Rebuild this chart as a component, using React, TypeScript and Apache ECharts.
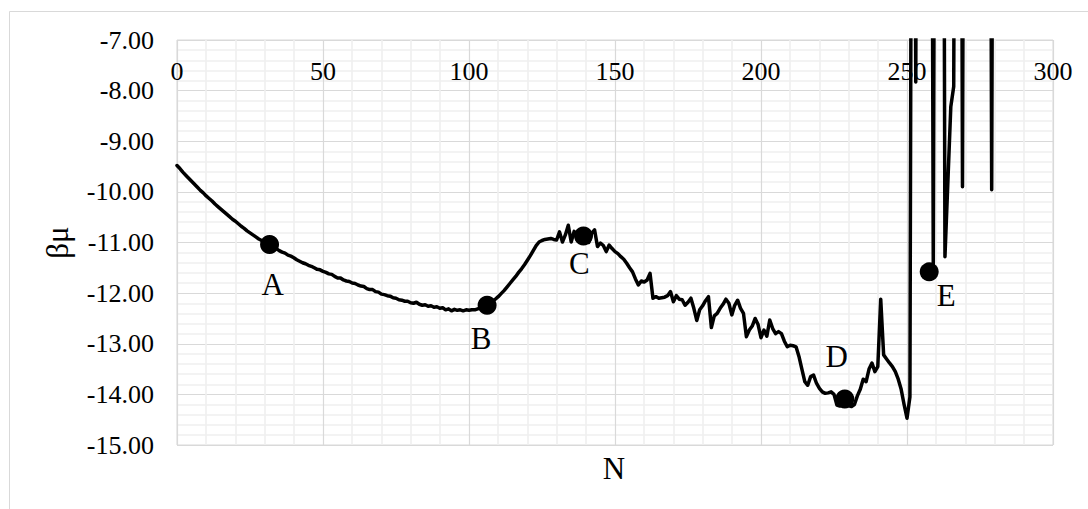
import React, { useEffect, useRef } from "react";
import * as echarts from "echarts";

const FONT = "Liberation Serif";

// βμ values for N = 0, 1, 2, ... (index = N)
const betaMu: number[] = [
  -9.48, -9.54, -9.61, -9.67, -9.73, -9.79, -9.85, -9.91, -9.97, -10.02,
  -10.08, -10.13, -10.18, -10.24, -10.29, -10.34, -10.39, -10.44, -10.49, -10.54,
  -10.58, -10.63, -10.68, -10.72, -10.77, -10.81, -10.85, -10.89, -10.93, -10.96,
  -11.0, -11.03, -11.06, -11.1, -11.12, -11.16, -11.19, -11.21, -11.25, -11.27,
  -11.3, -11.34, -11.37, -11.4, -11.42, -11.45, -11.47, -11.5, -11.53, -11.54,
  -11.57, -11.59, -11.62, -11.63, -11.67, -11.7, -11.7, -11.74, -11.76, -11.77,
  -11.8, -11.81, -11.84, -11.86, -11.87, -11.91, -11.93, -11.93, -11.97, -11.98,
  -12.02, -12.03, -12.05, -12.06, -12.09, -12.1, -12.13, -12.14, -12.16, -12.16,
  -12.19, -12.2, -12.18, -12.22, -12.24, -12.23, -12.26, -12.25, -12.28, -12.27,
  -12.3, -12.29, -12.33, -12.31, -12.35, -12.32, -12.34, -12.33, -12.35, -12.33,
  -12.34, -12.33, -12.33, -12.31, -12.29, -12.27, -12.24, -12.21, -12.17, -12.12,
  -12.07, -12.01, -11.95, -11.88, -11.81, -11.74, -11.67, -11.59, -11.52, -11.44,
  -11.35, -11.26, -11.16, -11.06, -10.99, -10.96, -10.94, -10.93, -10.92, -10.94,
  -10.95, -10.79, -10.99, -10.85, -10.66, -10.99, -10.78, -10.88, -10.84, -10.87,
  -10.9, -11.0, -10.82, -10.75, -11.08, -11.01, -11.06, -11.18, -11.05, -11.12,
  -11.18, -11.22, -11.28, -11.33, -11.41, -11.5, -11.58, -11.72, -11.84, -11.76,
  -11.78, -11.74, -11.61, -12.1, -12.07, -12.1, -12.09, -12.08, -12.05, -11.97,
  -12.17, -12.05, -12.12, -12.13, -12.24, -12.18, -12.1, -12.3, -12.54, -12.33,
  -12.25, -12.15, -12.07, -12.68, -12.45, -12.4, -12.3, -12.22, -12.12, -12.2,
  -12.43, -12.24, -12.14, -12.3, -12.4, -12.86, -12.73, -12.65, -12.5, -12.62,
  -12.88, -12.73, -12.85, -12.53, -12.7, -12.8, -12.76, -12.8, -12.95, -13.06,
  -13.03, -13.04, -13.06, -13.25, -13.5, -13.75, -13.82, -13.65, -13.62, -13.78,
  -13.88, -13.95, -13.98, -13.97, -13.95, -14.0, -14.21, -14.23, -14.2, -14.15,
  -14.22, -14.24, -14.2, -14.03, -13.9, -13.7, -13.75, -13.5, -13.38, -13.55,
  -13.45, -12.12, -13.22, -13.3, -13.38, -13.45, -13.55, -13.7, -13.9, -14.2,
  -14.47, -14.05, 8, -7.83, 10, 12, 11, 9, 8, -11.5,
  9, 11, 10, -11.28, -9.8, -8.32, -7.92, 9, 11, -9.9,
  10, 12, 13, 11, 12, 10, 12, 11, 9, -9.96,
  10, 12,
];

const markerNames = ["A", "B", "C", "D", "E"];
const markerN = [31.7, 106.2, 139.2, 228.7, 257.6];
const markerValues = [-11.04, -12.24, -10.87, -14.09, -11.58];

const xMin = 0;
const xMax = 300;
const xStep = 50;
const yMin = -15;
const yMax = -7;
const yStep = 1;

const xTitle = "N";
const yTitle = "βμ";

// label offsets from marker centre (px)
const labelOffsets: [number, number][] = [
  [3, 40],
  [-6, 33],
  [-4, 28],
  [-8, -42],
  [17, 24],
];

export default function App() {
  const ref = useRef<HTMLDivElement>(null);

  useEffect(() => {
    if (!ref.current) return;
    const chart = echarts.init(ref.current, null, { renderer: "svg" });
    const lineData = betaMu.map((v, i) => [i, v]);
    const markerData = markerNames.map((name, i) => ({
      name,
      value: [markerN[i], markerValues[i]],
      label: {
        show: true,
        position: "inside",
        offset: labelOffsets[i],
        formatter: name,
        fontFamily: FONT,
        fontSize: 31,
        color: "#000",
      },
    }));

    chart.setOption({
      animation: false,
      backgroundColor: "#ffffff",
      textStyle: { fontFamily: FONT },
      grid: {
        left: 177,
        right: 35,
        top: 40,
        bottom: 64,
        show: true,
        borderColor: "#d9d9d9",
        borderWidth: 1,
        backgroundColor: "transparent",
      },
      xAxis: {
        type: "value",
        position: "top",
        min: xMin,
        max: xMax,
        interval: xStep,
        axisLine: { show: false },
        axisTick: { show: false },
        axisLabel: {
          inside: true,
          margin: 18,
          fontFamily: FONT,
          fontSize: 26,
          color: "#000",
        },
        splitLine: { show: true, lineStyle: { color: "#d9d9d9", width: 1.2 } },
        minorTick: { show: false, splitNumber: 5 },
        minorSplitLine: { show: true, lineStyle: { color: "#efefef", width: 1.6 } },
      },
      yAxis: {
        type: "value",
        min: yMin,
        max: yMax,
        interval: yStep,
        name: yTitle,
        nameLocation: "middle",
        nameGap: 104,
        nameRotate: 90,
        nameTextStyle: { fontFamily: FONT, fontSize: 31, color: "#000" },
        axisLine: { show: false },
        axisTick: { show: false },
        axisLabel: {
          margin: 23,
          fontFamily: FONT,
          fontSize: 26,
          color: "#000",
          formatter: (v: number) => v.toFixed(2),
        },
        splitLine: { show: true, lineStyle: { color: "#d9d9d9", width: 1.2 } },
        minorTick: { show: false, splitNumber: 5 },
        minorSplitLine: { show: true, lineStyle: { color: "#efefef", width: 1.6 } },
      },
      graphic: [
        {
          type: "rect",
          shape: { x: 9.5, y: 11.5, width: 1200, height: 700 },
          style: { fill: "none", stroke: "#d9d9d9", lineWidth: 1 },
          silent: true,
          z: -10,
        },
        {
          type: "text",
          x: 614,
          y: 468,
          style: {
            text: xTitle,
            textAlign: "center",
            textVerticalAlign: "middle",
            fontFamily: FONT,
            fontSize: 31,
            fill: "#000",
          },
        },
      ],
      series: [
        {
          type: "line",
          data: lineData,
          showSymbol: false,
          symbol: "none",
          clip: true,
          lineStyle: { color: "#000", width: 3.5, join: "round", cap: "round" },
          z: 3,
        },
        {
          type: "scatter",
          data: markerData,
          symbol: "circle",
          symbolSize: 19,
          itemStyle: { color: "#000", opacity: 1 },
          z: 4,
        },
      ],
    });
    return () => chart.dispose();
  }, []);

  return (
    <div
      ref={ref}
      style={{ position: "fixed", left: 0, top: 0, width: 1088, height: 509 }}
    />
  );
}
